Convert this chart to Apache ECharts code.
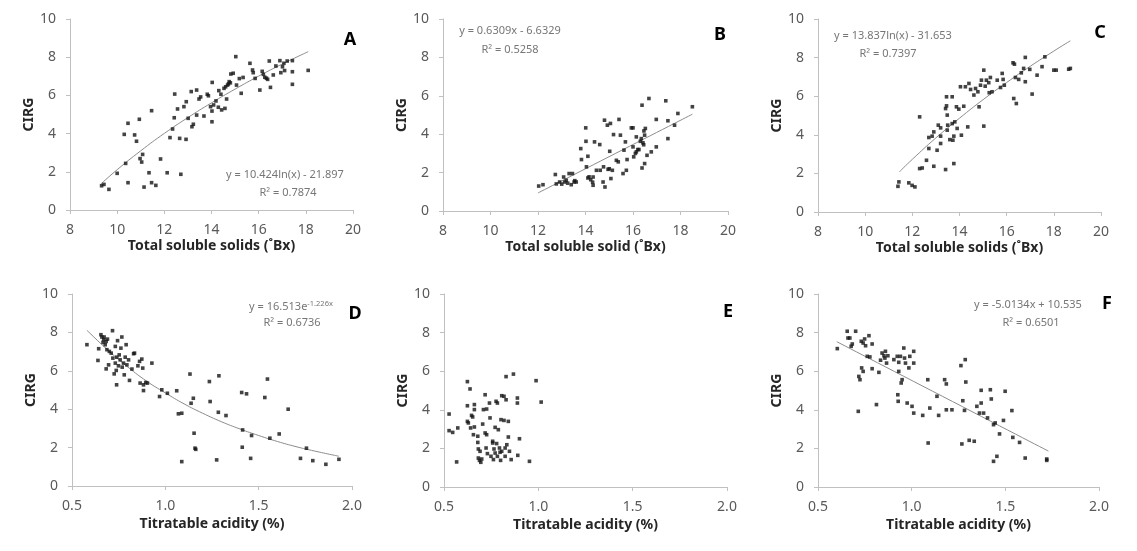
<!DOCTYPE html>
<html><head><meta charset="utf-8">
<script src="https://cdn.jsdelivr.net/npm/echarts@6/dist/echarts.min.js"></script>
<style>html,body{margin:0;padding:0;background:#fff}#c{width:1137px;height:551px}</style>
</head><body><div id="c"></div>
<script>
// ---------- data ----------
const yTicks = [0, 2, 4, 6, 8, 10];
const tssTicks = [8, 10, 12, 14, 16, 18, 20];
const taTicks = [0.5, 1.0, 1.5, 2.0];

const panelLabels = ['A', 'B', 'C', 'D', 'E', 'F'];
const xTitles = ['Total soluble solids (˚Bx)', 'Total soluble solid (˚Bx)', 'Total soluble solids (˚Bx)',
  'Titratable acidity (%)', 'Titratable acidity (%)', 'Titratable acidity (%)'];
const yTitle = 'CIRG';

const equations = ['y = 10.424ln(x) - 21.897', 'y = 0.6309x - 6.6329', 'y = 13.837ln(x) - 31.653',
  'y = 16.513e', null, 'y = -5.0134x + 10.535'];
const eqSup = [null, null, null, '-1.226x', null, null];
const r2 = ['R² = 0.7874', 'R² = 0.5258', 'R² = 0.7397', 'R² = 0.6736', null, 'R² = 0.6501'];

const pointsA = [[9.34,1.27],[9.44,1.34],[9.65,1.08],[10.0,1.92],[10.36,2.44],[10.3,3.96],[10.46,4.54],[10.46,1.43],[10.74,3.93],[10.82,3.6],[10.94,4.75],[10.97,2.69],[11.04,2.51],[11.08,2.91],[11.14,1.2],[11.35,1.95],[11.46,5.2],[11.46,1.43],[11.64,1.29],[11.84,2.67],[12.12,1.95],[12.24,3.79],[12.35,4.24],[12.42,4.83],[12.44,6.07],[12.56,5.29],[12.65,3.75],[12.70,1.87],[12.83,5.41],[12.92,3.7],[12.93,5.67],[13.01,4.8],[13.14,6.2],[13.17,4.36],[13.23,4.49],[13.37,6.28],[13.37,4.97],[13.47,5.81],[13.54,5.92],[13.68,4.92],[13.82,6.06],[13.87,5.98],[13.96,5.41],[14.02,4.62],[14.02,5.18],[14.03,6.68],[14.09,5.5],[14.19,5.71],[14.29,5.38],[14.31,6.25],[14.4,6.06],[14.43,5.24],[14.53,6.37],[14.57,5.32],[14.6,6.45],[14.64,5.81],[14.68,6.54],[14.72,6.6],[14.75,6.72],[14.8,6.66],[14.82,7.12],[14.92,7.16],[15.03,8.03],[15.06,6.54],[15.18,6.88],[15.26,6.11],[15.34,6.94],[15.63,7.68],[15.74,7.33],[15.77,7.19],[15.85,6.89],[16.05,6.28],[16.15,7.26],[16.2,7.1],[16.26,6.95],[16.33,6.9],[16.38,6.84],[16.45,7.8],[16.5,6.42],[16.62,7.07],[16.73,7.54],[16.9,7.82],[16.94,7.19],[17.01,7.5],[17.07,7.68],[17.1,7.3],[17.21,7.8],[17.43,7.82],[17.43,7.24],[17.43,6.58],[18.1,7.31]];

const pointsB = [[12.03,1.3],[12.21,1.37],[12.73,1.9],[12.77,1.41],[12.91,1.51],[13.0,1.4],[13.08,1.77],[13.12,1.51],[13.19,1.6],[13.25,1.45],[13.31,1.95],[13.4,1.37],[13.45,1.95],[13.52,1.51],[13.55,1.58],[13.61,1.51],[13.8,3.25],[13.83,2.68],[14.01,4.33],[14.02,3.63],[14.04,2.3],[14.1,2.85],[14.1,1.72],[14.15,1.78],[14.22,1.63],[14.3,1.5],[14.32,1.77],[14.32,1.34],[14.38,3.6],[14.46,2.12],[14.6,3.46],[14.62,2.12],[14.74,1.51],[14.76,2.3],[14.8,4.73],[14.82,1.25],[14.92,4.47],[14.95,2.17],[15.0,2.2],[15.02,3.11],[15.05,4.56],[15.07,1.69],[15.13,2.12],[15.18,3.98],[15.3,2.64],[15.38,2.56],[15.41,4.77],[15.47,3.95],[15.58,1.95],[15.62,3.17],[15.68,3.6],[15.72,2.12],[15.75,2.68],[15.93,4.33],[16.0,4.33],[16.0,3.34],[16.03,2.82],[16.1,3.0],[16.14,3.86],[16.14,3.08],[16.2,3.2],[16.25,3.2],[16.31,3.63],[16.35,3.77],[16.38,2.24],[16.38,5.51],[16.42,3.55],[16.45,3.45],[16.46,4.17],[16.49,2.47],[16.49,3.95],[16.52,4.3],[16.59,2.9],[16.67,5.86],[16.77,3.08],[16.98,4.77],[16.98,3.34],[17.38,5.74],[17.47,4.7],[17.47,3.77],[17.75,4.47],[17.89,5.08],[18.5,5.43]];

const pointsC = [[11.43,1.56],[11.39,1.33],[11.85,1.51],[11.99,1.38],[12.11,1.3],[12.31,4.93],[12.31,2.25],[12.42,2.28],[12.6,2.68],[12.7,3.29],[12.7,3.86],[12.84,3.93],[12.91,2.37],[12.91,4.15],[13.05,3.2],[13.1,4.5],[13.2,4.36],[13.2,3.93],[13.2,3.55],[13.41,2.2],[13.41,5.36],[13.45,5.5],[13.45,5.97],[13.48,5.02],[13.48,4.24],[13.5,4.5],[13.59,3.75],[13.69,5.97],[13.69,4.58],[13.72,3.72],[13.76,2.51],[13.76,3.93],[13.8,4.67],[13.87,5.45],[13.9,4.33],[13.97,5.33],[14.04,6.49],[14.08,3.98],[14.18,5.48],[14.25,6.49],[14.35,4.41],[14.4,6.66],[14.47,6.35],[14.61,6.06],[14.68,6.4],[14.78,6.23],[14.83,5.45],[14.89,6.57],[14.93,6.83],[15.03,7.35],[15.03,4.45],[15.09,6.52],[15.14,6.83],[15.24,6.7],[15.26,6.18],[15.31,6.97],[15.38,6.23],[15.6,6.83],[15.74,6.45],[15.81,7.18],[15.85,6.87],[15.9,6.57],[16.27,7.73],[16.33,7.66],[16.3,5.88],[16.37,6.97],[16.41,5.62],[16.51,6.87],[16.62,7.21],[16.72,7.44],[16.79,8.01],[16.79,6.75],[16.98,7.39],[17.08,6.11],[17.29,7.09],[17.5,7.53],[17.62,8.04],[18.0,7.35],[18.1,7.35],[18.63,7.4],[18.7,7.44]];

const pointsD = [[0.58,7.36],[0.639,6.54],[0.643,7.15],[0.655,7.88],[0.66,7.76],[0.666,7.48],[0.67,7.62],[0.672,7.76],[0.678,7.36],[0.683,7.53],[0.687,7.1],[0.69,7.65],[0.683,6.1],[0.696,6.31],[0.7,7.01],[0.71,6.92],[0.717,8.09],[0.719,6.66],[0.726,5.84],[0.732,7.27],[0.732,6.4],[0.739,5.27],[0.737,6.02],[0.74,6.71],[0.744,7.57],[0.749,6.26],[0.753,6.83],[0.758,6.57],[0.762,7.18],[0.767,7.76],[0.769,6.19],[0.776,6.4],[0.78,5.79],[0.785,6.71],[0.79,7.36],[0.794,6.31],[0.803,6.57],[0.808,5.5],[0.821,6.09],[0.83,6.89],[0.835,6.92],[0.853,6.26],[0.862,6.49],[0.865,5.36],[0.874,6.61],[0.879,6.14],[0.883,5.27],[0.883,4.97],[0.895,5.39],[0.904,5.36],[0.928,6.4],[0.969,4.66],[0.981,5.01],[1.011,4.83],[1.061,4.96],[1.07,3.76],[1.088,3.79],[1.088,1.27],[1.132,5.83],[1.138,4.31],[1.15,4.57],[1.154,2.75],[1.159,1.97],[1.163,1.91],[1.236,5.44],[1.24,4.4],[1.275,1.36],[1.287,5.74],[1.284,3.84],[1.325,3.67],[1.409,4.87],[1.412,2.02],[1.414,2.92],[1.435,4.8],[1.457,1.44],[1.462,2.63],[1.533,4.61],[1.547,5.57],[1.56,2.49],[1.61,2.71],[1.658,4.0],[1.724,1.44],[1.756,1.97],[1.79,1.32],[1.86,1.13],[1.93,1.39]];

const pointsE = [[0.527,3.78],[0.527,2.92],[0.546,2.83],[0.567,1.3],[0.573,3.06],[0.624,5.46],[0.624,4.21],[0.624,3.4],[0.629,3.32],[0.638,5.08],[0.641,3.06],[0.646,3.71],[0.652,3.63],[0.656,2.71],[0.661,4.27],[0.661,4.01],[0.661,3.11],[0.679,2.63],[0.679,2.31],[0.682,1.97],[0.682,1.5],[0.688,1.38],[0.691,1.85],[0.695,1.28],[0.7,1.45],[0.705,3.26],[0.709,4.01],[0.718,4.78],[0.718,2.8],[0.723,2.02],[0.726,2.71],[0.726,4.04],[0.73,1.73],[0.741,4.35],[0.744,3.58],[0.749,1.59],[0.758,2.37],[0.758,2.28],[0.762,1.42],[0.765,1.97],[0.771,3.09],[0.771,1.76],[0.776,4.44],[0.779,2.25],[0.783,4.35],[0.783,1.59],[0.788,2.97],[0.794,2.02],[0.797,1.8],[0.8,1.38],[0.802,3.49],[0.806,4.73],[0.806,1.85],[0.818,4.7],[0.818,3.45],[0.824,2.02],[0.824,1.59],[0.829,4.52],[0.829,5.72],[0.833,2.19],[0.841,3.4],[0.841,2.59],[0.847,1.85],[0.856,1.42],[0.868,5.85],[0.889,4.61],[0.889,4.35],[0.891,1.64],[0.9,2.5],[0.953,1.33],[0.988,5.51],[1.015,4.4]];

const pointsF = [[0.603,7.17],[0.656,8.07],[0.66,7.72],[0.67,7.72],[0.677,7.29],[0.683,7.41],[0.701,8.07],[0.715,3.92],[0.718,5.73],[0.724,5.56],[0.731,7.55],[0.733,6.17],[0.741,7.46],[0.741,5.99],[0.749,7.67],[0.754,7.32],[0.763,6.77],[0.772,7.84],[0.777,6.74],[0.789,7.41],[0.789,6.13],[0.812,4.27],[0.825,5.94],[0.834,6.57],[0.842,6.94],[0.852,6.8],[0.857,6.68],[0.86,7.03],[0.866,6.42],[0.873,6.8],[0.905,6.6],[0.923,6.77],[0.926,4.78],[0.928,4.44],[0.931,6.46],[0.931,5.99],[0.94,6.77],[0.944,5.39],[0.949,5.56],[0.958,7.2],[0.962,6.68],[0.967,6.42],[0.976,4.35],[0.985,6.17],[0.99,6.77],[1.002,4.18],[1.011,3.83],[1.011,7.03],[1.011,6.42],[1.059,3.71],[1.086,5.56],[1.088,2.28],[1.097,4.09],[1.144,3.71],[1.135,4.7],[1.176,5.56],[1.185,5.34],[1.185,4.0],[1.215,4.0],[1.263,6.29],[1.268,2.23],[1.273,4.47],[1.282,3.97],[1.286,6.6],[1.289,5.44],[1.307,2.42],[1.334,2.37],[1.348,4.18],[1.362,3.83],[1.371,4.35],[1.371,5.01],[1.384,3.83],[1.405,3.58],[1.42,5.04],[1.425,4.56],[1.437,3.23],[1.446,3.32],[1.437,1.33],[1.455,1.59],[1.469,2.75],[1.49,3.45],[1.499,4.96],[1.535,3.96],[1.54,2.57],[1.576,2.31],[1.606,1.5],[1.721,1.45],[1.721,1.38]];

// trend lines
const trendA = [[9.3,1.35],[10,2.11],[11,3.10],[12,4.01],[13,4.84],[14,5.61],[15,6.33],[16,7.01],[17,7.64],[18.1,8.29]];
const trendB = [[12.0,0.94],[18.5,5.04]];
const trendC = [[11.45,2.08],[12,2.73],[13,3.84],[14,4.86],[15,5.82],[16,6.71],[17,7.55],[18,8.34],[18.7,8.87]];
const trendD = [[0.58,8.11],[0.7,7.01],[0.8,6.19],[0.9,5.46],[1.0,4.85],[1.1,4.28],[1.2,3.79],[1.3,3.35],[1.4,2.97],[1.5,2.63],[1.6,2.32],[1.7,2.05],[1.8,1.82],[1.93,1.55]];
const trendE = null;
const trendF = [[0.6,7.53],[1.73,1.86]];

const allPoints = [pointsA, pointsB, pointsC, pointsD, pointsE, pointsF];
const allTrends = [trendA, trendB, trendC, trendD, trendE, trendF];

// ---------- layout ----------
const FONT = '"Noto Sans", "Open Sans", sans-serif';
const grids = [
  {left: 70, top: 19, width: 283, height: 191},
  {left: 443, top: 19, width: 285, height: 192},
  {left: 818, top: 19, width: 283, height: 193},
  {left: 72, top: 294, width: 280, height: 192},
  {left: 444, top: 294, width: 283, height: 193},
  {left: 818, top: 294, width: 281, height: 193}
];
const letterPos = [[350,40],[720,35],[1100,33],[355,314],[728,312],[1107,304]];
const eqPos = [[285,175],[510,31],[893,36],[291,307],null,[1028,305]];
const r2Pos = [[288,193],[510,50],[888,54],[292,323],null,[1031,323]];

const axisColor = '#c0c0c0';
const eqColor = '#767676';
const xAxes = [], yAxes = [], series = [], graphics = [];
for (let i = 0; i < 6; i++) {
  const isTss = i < 3;
  const ticks = isTss ? tssTicks : taTicks;
  xAxes.push({
    gridIndex: i, type: 'value',
    min: ticks[0], max: ticks[ticks.length - 1], interval: ticks[1] - ticks[0],
    name: xTitles[i], nameLocation: 'middle', nameGap: isTss ? 29 : 31,
    nameTextStyle: {color: '#262626', fontSize: 14, fontWeight: 'bold', fontFamily: FONT},
    axisLine: {show: true, onZero: false, lineStyle: {color: axisColor, width: 1}},
    axisTick: {show: true, length: 4, lineStyle: {color: axisColor}},
    axisLabel: {color: '#595959', fontSize: 14, fontFamily: FONT, margin: 13,
      formatter: v => isTss ? String(v) : v.toFixed(1)},
    splitLine: {show: false}
  });
  yAxes.push({
    gridIndex: i, type: 'value', min: yTicks[0], max: yTicks[yTicks.length - 1], interval: yTicks[1] - yTicks[0],
    name: yTitle, nameLocation: 'middle', nameGap: 34, nameRotate: 90,
    nameTextStyle: {color: '#262626', fontSize: 14, fontWeight: 'bold', fontFamily: FONT},
    axisLine: {show: true, lineStyle: {color: axisColor, width: 1}},
    axisTick: {show: true, length: 4, lineStyle: {color: axisColor}},
    axisLabel: {color: '#595959', fontSize: 14, fontFamily: FONT, margin: 14},
    splitLine: {show: false}
  });
  if (allTrends[i]) {
    series.push({
      type: 'line', xAxisIndex: i, yAxisIndex: i, data: allTrends[i], smooth: true,
      showSymbol: false, silent: true, lineStyle: {color: '#8c8c8c', width: 1}, z: 1
    });
  }
  series.push({
    type: 'scatter', xAxisIndex: i, yAxisIndex: i, data: allPoints[i],
    symbol: 'rect', symbolSize: 3.6, itemStyle: {color: '#141414'}, z: 3
  });
  graphics.push({
    type: 'text', x: letterPos[i][0], y: letterPos[i][1],
    style: {text: panelLabels[i], font: 'bold 18px ' + FONT, fill: '#000', align: 'center', verticalAlign: 'middle'}
  });
  if (equations[i]) {
    if (eqSup[i]) {
      graphics.push({
        type: 'text', x: eqPos[i][0], y: eqPos[i][1],
        style: {
          text: '{a|' + equations[i] + '}{b|' + eqSup[i] + '}',
          align: 'center', verticalAlign: 'middle',
          rich: {
            a: {fontSize: 11, fontFamily: FONT, fill: eqColor, color: eqColor},
            b: {fontSize: 7.5, fontFamily: FONT, fill: eqColor, color: eqColor, verticalAlign: 'top', padding: [0, 0, 6, 0]}
          }
        }
      });
    } else {
      graphics.push({
        type: 'text', x: eqPos[i][0], y: eqPos[i][1],
        style: {text: equations[i], font: '11px ' + FONT, fill: eqColor, align: 'center', verticalAlign: 'middle'}
      });
    }
    graphics.push({
      type: 'text', x: r2Pos[i][0], y: r2Pos[i][1],
      style: {text: r2[i], font: '11px ' + FONT, fill: eqColor, align: 'center', verticalAlign: 'middle'}
    });
  }
}

const chart = echarts.init(document.getElementById('c'), null, {renderer: 'canvas'});
chart.setOption({
  animation: false,
  backgroundColor: '#fff',
  grid: grids,
  xAxis: xAxes,
  yAxis: yAxes,
  series: series,
  graphic: graphics
});
</script>
</body></html>
